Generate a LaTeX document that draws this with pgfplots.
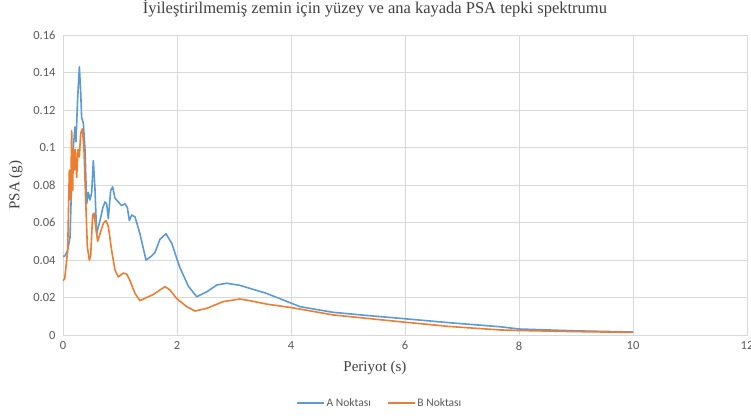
\documentclass[border=0pt]{standalone}
\usepackage{pgfplots}
\pgfplotsset{compat=1.18}
\usepackage{fontspec}
\setmainfont{Liberation Serif}
\newfontfamily\calib{Carlito}
\definecolor{seriesA}{HTML}{5B9BD5}
\definecolor{seriesB}{HTML}{ED7D31}
\definecolor{gridc}{HTML}{D9D9D9}
\definecolor{tickc}{HTML}{595959}
\definecolor{labc}{HTML}{404040}

\begin{document}
\begin{tikzpicture}[x=1pt,y=1pt]
\path[use as bounding box] (0,0) rectangle (751,418);
\begin{axis}[
    at={(63pt,83pt)}, anchor=south west,
    scale only axis, width=684pt, height=300pt,
    xmin=0, xmax=12, ymin=0, ymax=0.16,
    xtick={0,2,4,6,8,10,12},
    ytick={0,0.02,0.04,0.06,0.08,0.1,0.12,0.14,0.16},
    grid=major, major grid style={gridc, line width=0.8pt},
    axis line style={gridc, line width=0.8pt},
    major tick length=0pt,
    /pgf/number format/assume math mode=true,
    tick label style={font=\fontsize{12.5}{14}\calib, text=tickc},
    scaled y ticks=false,
    yticklabel style={/pgf/number format/fixed, /pgf/number format/precision=2, xshift=-4pt},
    xticklabel style={yshift=-3pt},
    title={İyileştirilmemiş zemin için yüzey ve ana kayada PSA tepki spektrumu},
    title style={at={(axis description cs:0.456,1.067)}, anchor=center,
        font=\fontsize{16.5}{18}\selectfont, text=labc},
    xlabel={Periyot (s)},
    xlabel style={at={(axis description cs:0.456,-0.11)}, anchor=center,
        font=\fontsize{15}{17}\selectfont, text=labc},
    ylabel={PSA (g)},
    ylabel style={at={(axis description cs:-0.069,0.5)}, anchor=center,
        font=\fontsize{15}{17}\selectfont, text=labc},
    legend style={at={(axis description cs:0.463,-0.227)}, anchor=center,
        legend columns=2, draw=none, fill=none,
        font=\fontsize{11.5}{13}\calib, text=tickc,
        /tikz/every even column/.style={column sep=14pt}},
    legend image code/.code={\draw[#1] (0pt,0pt) -- (27pt,0pt);},
    every axis plot/.append style={line width=1.6pt, line join=round},
]
\addplot[seriesA] coordinates {
(0,0.042)(0.03,0.042)(0.08,0.045)(0.123,0.052)(0.15,0.080)(0.181,0.100)
(0.21,0.111)(0.228,0.103)(0.255,0.125)(0.287,0.143)(0.31,0.130)(0.327,0.116)
(0.357,0.113)(0.386,0.099)(0.415,0.070)(0.444,0.076)(0.474,0.072)(0.503,0.076)
(0.532,0.093)(0.561,0.078)(0.59,0.054)(0.649,0.061)(0.70,0.068)(0.737,0.071)
(0.766,0.070)(0.795,0.062)(0.836,0.077)(0.871,0.079)(0.912,0.073)(0.97,0.071)
(1.029,0.069)(1.088,0.070)(1.129,0.068)(1.164,0.061)(1.205,0.064)(1.263,0.063)
(1.35,0.054)(1.456,0.040)(1.55,0.042)(1.614,0.044)(1.70,0.051)(1.807,0.054)
(1.906,0.049)(2.05,0.036)(2.2,0.026)(2.345,0.0204)(2.52,0.023)(2.7,0.0267)
(2.87,0.0276)(3.1,0.0265)(3.57,0.0222)(4.16,0.0151)(4.74,0.0121)(5.3,0.0105)
(5.91,0.0089)(6.8,0.0065)(7.67,0.0044)(8,0.0032)(9,0.0022)(10,0.0016)
};
\addplot[seriesB] coordinates {
(0,0.029)(0.03,0.030)(0.082,0.045)(0.111,0.088)(0.135,0.072)(0.152,0.109)
(0.17,0.077)(0.181,0.099)(0.199,0.088)(0.216,0.099)(0.24,0.084)(0.263,0.099)
(0.287,0.095)(0.31,0.1076)(0.34,0.110)(0.368,0.099)(0.398,0.072)(0.427,0.047)
(0.462,0.040)(0.485,0.042)(0.52,0.064)(0.544,0.065)(0.573,0.058)(0.608,0.050)
(0.649,0.054)(0.708,0.0596)(0.754,0.061)(0.795,0.058)(0.854,0.045)(0.912,0.0347)
(0.97,0.031)(1.058,0.033)(1.117,0.0325)(1.175,0.029)(1.263,0.0222)(1.35,0.0183)
(1.468,0.020)(1.585,0.0216)(1.70,0.024)(1.79,0.0258)(1.877,0.024)(1.99,0.0196)
(2.17,0.0151)(2.316,0.0128)(2.52,0.0142)(2.81,0.0178)(3.1,0.0192)(3.28,0.0183)
(3.57,0.0165)(4.01,0.0146)(4.74,0.0107)(5.91,0.0071)(6.8,0.0045)(7.67,0.0027)
(8,0.0024)(9,0.0018)(10,0.0014)
};
\legend{A Noktası,B Noktası}
\end{axis}
\end{tikzpicture}
\end{document}
